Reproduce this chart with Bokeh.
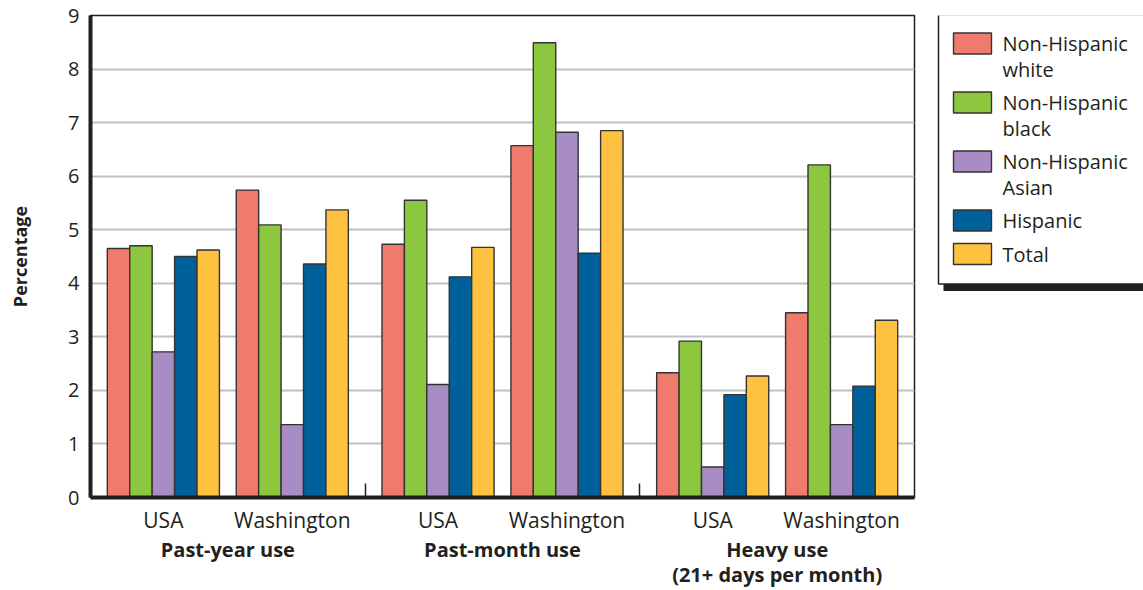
from bokeh.plotting import figure
from bokeh.layouts import row
from bokeh.models import ColumnDataSource, FixedTicker, Range1d, LinearAxis
from bokeh.core.properties import value
from bokeh.embed import file_html
from bokeh.resources import INLINE

# ---- data -------------------------------------------------------------
uses = ["Past-year use", "Past-month use", "Heavy use\n(21+ days per month)"]
regions = ["USA", "Washington"]
series = ["Non-Hispanic white", "Non-Hispanic black", "Non-Hispanic Asian",
          "Hispanic", "Total"]
legend_lines = [["Non-Hispanic", "white"], ["Non-Hispanic", "black"],
                ["Non-Hispanic", "Asian"], ["Hispanic"], ["Total"]]

# one value per (use, region): PY-USA, PY-WA, PM-USA, PM-WA, Heavy-USA, Heavy-WA
white = [4.65, 5.74, 4.73, 6.57, 2.33, 3.45]
black = [4.70, 5.09, 5.55, 8.49, 2.92, 6.21]
asian = [2.72, 1.36, 2.11, 6.82, 0.57, 1.36]
hispanic = [4.50, 4.36, 4.12, 4.56, 1.92, 2.08]
total = [4.62, 5.37, 4.67, 6.85, 2.27, 3.31]
values = [white, black, asian, hispanic, total]

y_ticks = list(range(0, 10))

colors = ["#EE7B6C", "#8DC63F", "#A78DC3", "#00619A", "#FFC240"]
INK = "#231f20"
FONT = "Open Sans"

# ---- layout in bar-width units ---------------------------------------
PAD, GAP = 0.75, 0.75
NS = len(series)
GROUP = PAD + NS + GAP + NS + PAD
X_END = GROUP * len(uses)


def sub_left(u, r):
    return u * GROUP + PAD + r * (NS + GAP)


TOP, BOTTOM = 15, 93

p = figure(width=930, height=590, x_range=Range1d(0, X_END),
           y_range=Range1d(0, 9), output_backend="svg",
           toolbar_location=None, min_border_left=90, min_border_right=16,
           min_border_top=TOP, min_border_bottom=BOTTOM)
p.background_fill_color = "white"
p.border_fill_color = "white"
p.outline_line_color = INK
p.outline_line_width = 1.5

for k, (name, vals, col) in enumerate(zip(series, values, colors)):
    xs, tops = [], []
    for u in range(len(uses)):
        for r in range(len(regions)):
            xs.append(sub_left(u, r) + k + 0.5)
            tops.append(vals[u * len(regions) + r])
    src = ColumnDataSource(dict(x=xs, top=tops))
    p.vbar(x="x", top="top", bottom=0, width=1.0, source=src,
           fill_color=col, line_color="#333333", line_width=1.4)

# y axis
p.yaxis.ticker = FixedTicker(ticks=y_ticks)
p.yaxis.axis_line_width = 4
p.yaxis.axis_line_color = INK
p.yaxis.major_tick_in = 0
p.yaxis.major_tick_out = 0
p.yaxis.minor_tick_line_color = None
p.yaxis.major_label_standoff = 11
p.yaxis.major_label_text_font = FONT
p.yaxis.major_label_text_font_size = "20px"
p.yaxis.major_label_text_color = INK
p.yaxis.axis_label = "Percentage"
p.yaxis.axis_label_text_font = FONT
p.yaxis.axis_label_text_font_size = "18px"
p.yaxis.axis_label_text_font_style = "bold"
p.yaxis.axis_label_text_color = INK
p.yaxis.axis_label_standoff = 33

# x axis: thick base line with short separators between the three measures
seps = [GROUP * u for u in range(1, len(uses))]
p.xaxis.ticker = FixedTicker(ticks=seps)
p.xaxis.major_label_overrides = {s: "" for s in seps}
p.xaxis.axis_line_width = 4
p.xaxis.axis_line_color = INK
p.xaxis.major_tick_in = 14
p.xaxis.major_tick_out = 0
p.xaxis.major_tick_line_width = 1.5
p.xaxis.major_tick_line_color = INK
p.xaxis.minor_tick_line_color = None
p.xaxis.major_label_standoff = 0

# region names under each cluster
reg_pos = [sub_left(u, r) + NS / 2 for u in range(len(uses))
           for r in range(len(regions))]
reg_axis = LinearAxis(ticker=FixedTicker(ticks=reg_pos),
                      major_label_overrides={x: regions[i % len(regions)]
                                             for i, x in enumerate(reg_pos)})
# measure names under each pair
use_pos = [u * GROUP + GROUP / 2 for u in range(len(uses))]
use_axis = LinearAxis(ticker=FixedTicker(ticks=use_pos),
                      major_label_overrides={x: uses[i]
                                             for i, x in enumerate(use_pos)})
for ax, size, style, standoff, lh in ((reg_axis, "21px", "normal", 8, 1.2),
                                      (use_axis, "20px", "bold", -1, 0.94)):
    ax.axis_line_color = None
    ax.major_tick_line_color = None
    ax.minor_tick_line_color = None
    ax.major_tick_in = 0
    ax.major_tick_out = 0
    ax.major_label_standoff = standoff
    ax.major_label_text_font = FONT
    ax.major_label_text_font_size = size
    ax.major_label_text_font_style = style
    ax.major_label_text_line_height = lh
    ax.major_label_text_color = INK
    p.add_layout(ax, "below")

p.xgrid.grid_line_color = None
p.ygrid.ticker = FixedTicker(ticks=y_ticks)
p.ygrid.grid_line_color = "#bfc0c2"
p.ygrid.grid_line_width = 2

# ---- legend panel (frame shares the main plot's top and bottom) -------
plot_bottom = 590 - BOTTOM
leg = figure(width=213, height=590, x_range=Range1d(0, 213),
             y_range=Range1d(plot_bottom, TOP), output_backend="svg",
             toolbar_location=None, min_border_left=0, min_border_right=0,
             min_border_top=TOP, min_border_bottom=BOTTOM)
leg.axis.visible = False
leg.grid.visible = False
leg.outline_line_color = None
leg.background_fill_color = "white"
leg.border_fill_color = "white"

LINE_H, ENTRY_GAP, FIRST = 25.5, 8, 43
centers = []
y = FIRST
for lines in legend_lines:
    centers.append(y)
    y += len(lines) * LINE_H + ENTRY_GAP

box_bottom = centers[-1] + 30
leg.quad(left=13, right=260, top=20, bottom=box_bottom + 7,
         fill_color=INK, line_color=None)
leg.quad(left=8, right=250, top=14, bottom=box_bottom,
         fill_color="white", line_color=INK, line_width=1.5)

leg.quad(left=[23] * NS, right=[61] * NS,
         top=[c - 10.5 for c in centers], bottom=[c + 10.5 for c in centers],
         fill_color=colors, line_color="#333333", line_width=1.4)

tx, ty, tt = [], [], []
for c, lines in zip(centers, legend_lines):
    for i, line in enumerate(lines):
        tx.append(72)
        ty.append(c + i * LINE_H)
        tt.append(line)
leg.text(x=tx, y=ty, text=tt, text_baseline="middle", text_align="left",
         text_font=value(FONT), text_font_size="20px", text_color=INK)

layout = row(p, leg)
open("out.html", "w").write(file_html(layout, INLINE))
